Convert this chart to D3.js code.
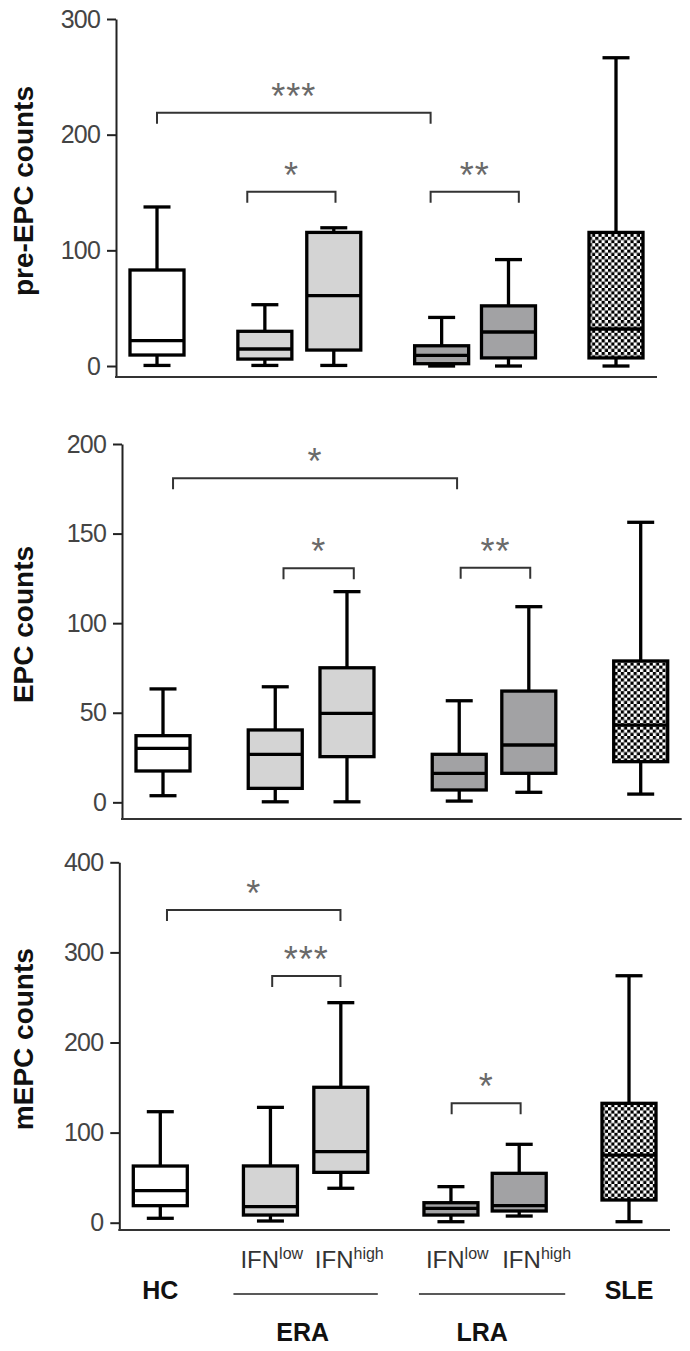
<!DOCTYPE html>
<html>
<head>
<meta charset="utf-8">
<script src="https://cdn.jsdelivr.net/npm/d3@7"></script>
<style>
  html, body { margin: 0; padding: 0; background: #fff; }
  svg { display: block; }
</style>
</head>
<body>
<svg id="chart" width="690" height="1351"></svg>
<script>
// ---------------- DATA ----------------
const groups = ["HC", "ERA IFNlow", "ERA IFNhigh", "LRA IFNlow", "LRA IFNhigh", "SLE"];
// [min, q1, median, q3, max]
const preEPC = [
  [0.5, 9.5, 22, 83, 137.5],
  [0.5, 6, 14.7, 30, 53],
  [0.5, 13.8, 60.8, 115.5, 119.5],
  [0, 2, 9.2, 17.5, 42],
  [0, 7, 29.4, 52, 92],
  [0, 7, 32, 115.5, 266.5]
];
const EPC = [
  [3.7, 17.5, 30.1, 37.2, 63.3],
  [0.3, 7.8, 26.8, 40.4, 64.5],
  [0.3, 25.5, 49.7, 75.1, 117.6],
  [0.7, 6.9, 16.2, 26.8, 56.7],
  [5.6, 16.2, 32, 62.1, 109.2],
  [4.6, 22.7, 43.1, 78.9, 156.3]
];
const mEPC = [
  [4.9, 18.9, 35.5, 62.9, 123.2],
  [1.9, 8.5, 17.8, 63, 128],
  [38.2, 55.9, 78.8, 150.3, 244.2],
  [1.1, 8.5, 16, 22.2, 40],
  [7.4, 13, 18.9, 54.8, 87],
  [1.1, 25.2, 75.1, 132.5, 274.1]
];
const preTicks = [0, 100, 200, 300];
const epcTicks = [0, 50, 100, 150, 200];
const mepcTicks = [0, 100, 200, 300, 400];
// significance brackets: from slot a to slot b at value v
const preSig = [
  {a: 0, b: 3.97, v: 219, label: "***"},
  {a: 1.31, b: 2.59, v: 150.7, label: "*"},
  {a: 3.97, b: 5.25, v: 150.7, label: "**"}
];
const epcSig = [
  {a: 0.14, b: 4.10, v: 180.9, label: "*"},
  {a: 1.68, b: 2.66, v: 130.6, label: "*"},
  {a: 4.15, b: 5.12, v: 131, label: "**"}
];
const mepcSig = [
  {a: 0.095, b: 2.56, v: 347, label: "*"},
  {a: 1.59, b: 2.56, v: 273.8, label: "***"},
  {a: 4.14, b: 5.12, v: 132.5, label: "*"}
];
const ifnLabels = [
  {i: 1, sup: "low"}, {i: 2, sup: "high"}, {i: 3, sup: "low"}, {i: 4, sup: "high"}
];

// ---------------- LAYOUT ----------------
const slots = [0, 1.565, 2.565, 4.13, 5.10, 6.66];
const ifnShift = [0, -30, -26, -25, -17, 0];
const fills = ["#ffffff", "#d4d4d4", "#d4d4d4", "#a2a2a4", "#a2a2a4", "url(#checker)"];

const panels = [
  {label: "pre-EPC counts", data: preEPC, ticks: preTicks, sig: preSig,
   axisX: 116, right: 657, top: 19, bottom: 377, yMin: -9.5},
  {label: "EPC counts", data: EPC, ticks: epcTicks, sig: epcSig,
   axisX: 122, right: 681.7, top: 444, bottom: 819, yMin: -9.3},
  {label: "mEPC counts", data: mEPC, ticks: mepcTicks, sig: mepcSig,
   axisX: 119.3, right: 670, top: 862.3, bottom: 1230, yMin: -8.1}
];

const svg = d3.select("#chart");
const defs = svg.append("defs");
const pat = defs.append("pattern").attr("id", "checker")
  .attr("patternUnits", "userSpaceOnUse").attr("width", 6.4).attr("height", 6.4);
pat.append("rect").attr("width", 6.4).attr("height", 6.4).attr("fill", "#ffffff");
pat.append("rect").attr("x", 0).attr("y", 0).attr("width", 3.2).attr("height", 3.2).attr("fill", "#000");
pat.append("rect").attr("x", 3.2).attr("y", 3.2).attr("width", 3.2).attr("height", 3.2).attr("fill", "#000");

const FONT = "'Liberation Sans', Arial, Helvetica, sans-serif";
const boxW = 54, capW = 27;
let lastX = null;

panels.forEach((p, pi) => {
  const g = svg.append("g");
  const x = d3.scaleLinear().domain([0, slots[slots.length - 1]]).range([p.axisX + 41, p.right - 41]);
  const y = d3.scaleLinear().domain([p.yMin, d3.max(p.ticks)]).range([p.bottom, p.top]);
  if (pi === 2) lastX = x;

  // y axis
  const ax = g.append("g").attr("transform", `translate(${p.axisX},0)`)
    .call(d3.axisLeft(y).tickValues(p.ticks).tickSize(9).tickSizeOuter(0).tickPadding(7).tickFormat(d3.format("d")));
  ax.select(".domain").attr("stroke", "#222").attr("stroke-width", 2);
  ax.selectAll(".tick line").attr("stroke", "#222").attr("stroke-width", 2);
  ax.selectAll(".tick text").attr("font-family", FONT).attr("font-size", 25)
    .attr("fill", "#444").attr("letter-spacing", "-0.8px");

  // x axis line
  g.append("line").attr("x1", p.axisX - 1).attr("x2", p.right)
    .attr("y1", p.bottom).attr("y2", p.bottom).attr("stroke", "#333").attr("stroke-width", 2);

  // y label
  g.append("text")
    .attr("transform", `translate(33,${(p.top + p.bottom) / 2 - 7}) rotate(-90)`)
    .attr("text-anchor", "middle").attr("font-family", FONT).attr("font-weight", "bold")
    .attr("font-size", 28).attr("fill", "#111").text(p.label);

  // boxes
  p.data.forEach((d, i) => {
    const cx = x(slots[i]);
    const [mn, q1, md, q3, mx] = d;
    const bg = g.append("g").attr("stroke", "#000").attr("stroke-width", 3.3);
    bg.append("line").attr("x1", cx).attr("x2", cx).attr("y1", y(mx)).attr("y2", y(mn));
    bg.append("line").attr("x1", cx - capW / 2).attr("x2", cx + capW / 2).attr("y1", y(mx)).attr("y2", y(mx));
    bg.append("line").attr("x1", cx - capW / 2).attr("x2", cx + capW / 2).attr("y1", y(mn)).attr("y2", y(mn));
    bg.append("rect").attr("x", cx - boxW / 2).attr("width", boxW)
      .attr("y", y(q3)).attr("height", y(q1) - y(q3)).attr("fill", fills[i]);
    bg.append("line").attr("x1", cx - boxW / 2).attr("x2", cx + boxW / 2).attr("y1", y(md)).attr("y2", y(md));
  });

  // significance brackets
  p.sig.forEach(s => {
    const yy = y(s.v), x1 = x(s.a), x2 = x(s.b);
    g.append("path")
      .attr("d", `M${x1},${yy + 11}V${yy}H${x2}V${yy + 11}`)
      .attr("fill", "none").attr("stroke", "#333").attr("stroke-width", 2);
    g.append("text").attr("x", (x1 + x2) / 2).attr("y", yy - 4)
      .attr("text-anchor", "middle").attr("font-family", FONT).attr("font-size", 36)
      .attr("fill", "#6a6a6a").attr("letter-spacing", "1px").text(s.label);
  });
});

// ---------------- bottom category labels ----------------
const lab = svg.append("g").attr("font-family", FONT);
ifnLabels.forEach(f => {
  const t = lab.append("text").attr("x", lastX(slots[f.i]) + ifnShift[f.i]).attr("y", 1268)
    .attr("font-size", 24).attr("fill", "#333");
  t.append("tspan").text("IFN");
  t.append("tspan").attr("dy", -9).attr("font-size", 16).text(f.sup);
});
[{i: 0, t: "HC"}, {i: 5, t: "SLE"}].forEach(l => {
  lab.append("text").attr("x", lastX(slots[l.i])).attr("y", 1299)
    .attr("text-anchor", "middle").attr("font-size", 25).attr("font-weight", "bold")
    .attr("fill", "#111").text(l.t);
});
[{a: 1, b: 2, t: "ERA", l: 37, r: 37}, {a: 3, b: 4, t: "LRA", l: 32, r: 46}].forEach(l => {
  const xa = lastX(slots[l.a]), xb = lastX(slots[l.b]);
  lab.append("line").attr("x1", xa - l.l).attr("x2", xb + l.r).attr("y1", 1294).attr("y2", 1294)
    .attr("stroke", "#222").attr("stroke-width", 1.5);
  lab.append("text").attr("x", (xa + xb) / 2 - 3).attr("y", 1341)
    .attr("text-anchor", "middle").attr("font-size", 25).attr("font-weight", "bold")
    .attr("fill", "#111").text(l.t);
});
</script>
</body>
</html>
